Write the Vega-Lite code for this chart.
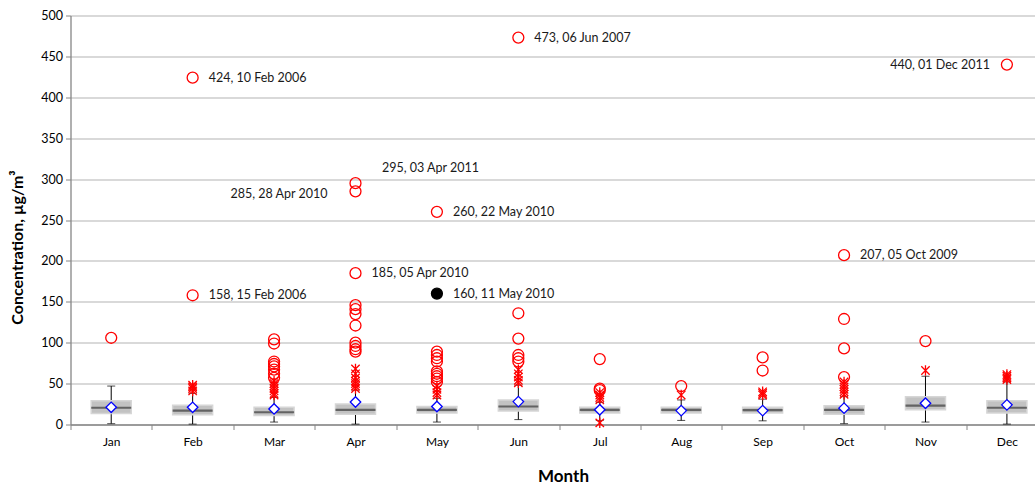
{
  "$schema": "https://vega.github.io/schema/vega-lite/v6.json",
  "autosize": {"type": "none"},
  "padding": {"left": 70.5, "top": 15.5, "right": 0, "bottom": 60},
  "width": 964.5,
  "height": 409,
  "background": "white",
  "config": {
    "view": {"stroke": null},
    "font": "Lato",
    "axis": {"labelFont": "Lato", "titleFont": "Lato", "labelColor": "#000", "titleColor": "#000"}
  },
  "datasets": {
    "boxes": [
      {"month": "Jan", "m": 1, "lo": 1, "q1": 13.5, "med": 20.5, "q3": 29, "hi": 47, "mean": 21},
      {"month": "Feb", "m": 2, "lo": 0.5, "q1": 12, "med": 17, "q3": 23.5, "hi": 38, "mean": 21},
      {"month": "Mar", "m": 3, "lo": 3, "q1": 11, "med": 15, "q3": 21, "hi": 33, "mean": 19},
      {"month": "Apr", "m": 4, "lo": 0.5, "q1": 12.5, "med": 18, "q3": 25, "hi": 42, "mean": 27.5},
      {"month": "May", "m": 5, "lo": 3, "q1": 14, "med": 18, "q3": 22, "hi": 32, "mean": 22},
      {"month": "Jun", "m": 6, "lo": 6, "q1": 16.5, "med": 22, "q3": 30, "hi": 48, "mean": 28},
      {"month": "Jul", "m": 7, "lo": 5, "q1": 14, "med": 18, "q3": 21, "hi": 27, "mean": 18},
      {"month": "Aug", "m": 8, "lo": 5, "q1": 14, "med": 18, "q3": 21, "hi": 30, "mean": 17},
      {"month": "Sep", "m": 9, "lo": 4.5, "q1": 14, "med": 17.5, "q3": 21, "hi": 31, "mean": 17},
      {"month": "Oct", "m": 10, "lo": 1, "q1": 12.5, "med": 18, "q3": 23, "hi": 34, "mean": 20},
      {"month": "Nov", "m": 11, "lo": 3, "q1": 18, "med": 23, "q3": 34, "hi": 59, "mean": 26},
      {"month": "Dec", "m": 12, "lo": 0.5, "q1": 14, "med": 20.5, "q3": 29, "hi": 52, "mean": 24}
    ],
    "outliers": [
      {"m": 1, "value": 106, "type": "extreme"},
      {"m": 2, "value": 424, "type": "extreme", "label": "424, 10 Feb 2006"},
      {"m": 2, "value": 158, "type": "extreme", "label": "158, 15 Feb 2006"},
      {"m": 2, "value": 48, "type": "mild"},
      {"m": 2, "value": 46, "type": "mild"},
      {"m": 2, "value": 44, "type": "mild"},
      {"m": 2, "value": 41, "type": "mild"},
      {"m": 3, "value": 104, "type": "extreme"},
      {"m": 3, "value": 99, "type": "extreme"},
      {"m": 3, "value": 77, "type": "extreme"},
      {"m": 3, "value": 74, "type": "extreme"},
      {"m": 3, "value": 71, "type": "extreme"},
      {"m": 3, "value": 67, "type": "extreme"},
      {"m": 3, "value": 62, "type": "extreme"},
      {"m": 3, "value": 57, "type": "extreme"},
      {"m": 3, "value": 53, "type": "mild"},
      {"m": 3, "value": 50, "type": "mild"},
      {"m": 3, "value": 47, "type": "mild"},
      {"m": 3, "value": 44, "type": "mild"},
      {"m": 3, "value": 41, "type": "mild"},
      {"m": 3, "value": 38, "type": "mild"},
      {"m": 3, "value": 36, "type": "mild"},
      {"m": 4, "value": 295, "type": "extreme", "label": "295, 03 Apr 2011"},
      {"m": 4, "value": 285, "type": "extreme", "label": "285, 28 Apr 2010"},
      {"m": 4, "value": 185, "type": "extreme", "label": "185, 05 Apr 2010"},
      {"m": 4, "value": 146, "type": "extreme"},
      {"m": 4, "value": 141, "type": "extreme"},
      {"m": 4, "value": 135, "type": "extreme"},
      {"m": 4, "value": 121, "type": "extreme"},
      {"m": 4, "value": 100, "type": "extreme"},
      {"m": 4, "value": 96, "type": "extreme"},
      {"m": 4, "value": 92, "type": "extreme"},
      {"m": 4, "value": 89, "type": "extreme"},
      {"m": 4, "value": 68, "type": "mild"},
      {"m": 4, "value": 62, "type": "mild"},
      {"m": 4, "value": 57, "type": "mild"},
      {"m": 4, "value": 53, "type": "mild"},
      {"m": 4, "value": 50, "type": "mild"},
      {"m": 4, "value": 47, "type": "mild"},
      {"m": 4, "value": 44, "type": "mild"},
      {"m": 5, "value": 260, "type": "extreme", "label": "260, 22 May 2010"},
      {"m": 5, "value": 160, "type": "event", "label": "160, 11 May 2010"},
      {"m": 5, "value": 89, "type": "extreme"},
      {"m": 5, "value": 85, "type": "extreme"},
      {"m": 5, "value": 81, "type": "extreme"},
      {"m": 5, "value": 77, "type": "extreme"},
      {"m": 5, "value": 65, "type": "extreme"},
      {"m": 5, "value": 62, "type": "extreme"},
      {"m": 5, "value": 59, "type": "extreme"},
      {"m": 5, "value": 56, "type": "extreme"},
      {"m": 5, "value": 52, "type": "extreme"},
      {"m": 5, "value": 47, "type": "mild"},
      {"m": 5, "value": 43, "type": "mild"},
      {"m": 5, "value": 39, "type": "mild"},
      {"m": 5, "value": 36, "type": "mild"},
      {"m": 6, "value": 473, "type": "extreme", "label": "473, 06 Jun 2007"},
      {"m": 6, "value": 136, "type": "extreme"},
      {"m": 6, "value": 105, "type": "extreme"},
      {"m": 6, "value": 85, "type": "extreme"},
      {"m": 6, "value": 81, "type": "extreme"},
      {"m": 6, "value": 77, "type": "extreme"},
      {"m": 6, "value": 67, "type": "mild"},
      {"m": 6, "value": 62, "type": "mild"},
      {"m": 6, "value": 58, "type": "mild"},
      {"m": 6, "value": 54, "type": "mild"},
      {"m": 6, "value": 51, "type": "mild"},
      {"m": 7, "value": 80, "type": "extreme"},
      {"m": 7, "value": 44, "type": "extreme"},
      {"m": 7, "value": 42, "type": "extreme"},
      {"m": 7, "value": 39, "type": "mild"},
      {"m": 7, "value": 36, "type": "mild"},
      {"m": 7, "value": 33, "type": "mild"},
      {"m": 7, "value": 30, "type": "mild"},
      {"m": 7, "value": 2, "type": "mild"},
      {"m": 8, "value": 47, "type": "extreme"},
      {"m": 8, "value": 36, "type": "mild"},
      {"m": 9, "value": 82, "type": "extreme"},
      {"m": 9, "value": 66, "type": "extreme"},
      {"m": 9, "value": 40, "type": "mild"},
      {"m": 9, "value": 38, "type": "mild"},
      {"m": 9, "value": 36, "type": "mild"},
      {"m": 10, "value": 207, "type": "extreme", "label": "207, 05 Oct 2009"},
      {"m": 10, "value": 129, "type": "extreme"},
      {"m": 10, "value": 93, "type": "extreme"},
      {"m": 10, "value": 58, "type": "extreme"},
      {"m": 10, "value": 52, "type": "mild"},
      {"m": 10, "value": 49, "type": "mild"},
      {"m": 10, "value": 46, "type": "mild"},
      {"m": 10, "value": 43, "type": "mild"},
      {"m": 10, "value": 40, "type": "mild"},
      {"m": 10, "value": 37, "type": "mild"},
      {"m": 11, "value": 102, "type": "extreme"},
      {"m": 11, "value": 66, "type": "mild"},
      {"m": 12, "value": 440, "type": "extreme", "label": "440, 01 Dec 2011"},
      {"m": 12, "value": 61, "type": "mild"},
      {"m": 12, "value": 59, "type": "mild"},
      {"m": 12, "value": 57, "type": "mild"},
      {"m": 12, "value": 55, "type": "mild"}
    ]
  },
  "layer": [
    {
      "data": {"name": "boxes"},
      "mark": {"type": "rule", "color": "#000", "strokeWidth": 1},
      "encoding": {
        "x": {
          "field": "m", "type": "quantitative",
          "scale": {"domain": [0.5, 12.345], "nice": false, "zero": false, "padding": 0},
          "axis": {
            "values": [0.5, 1, 1.5, 2, 2.5, 3, 3.5, 4, 4.5, 5, 5.5, 6, 6.5, 7, 7.5, 8, 8.5, 9, 9.5, 10, 10.5, 11, 11.5, 12],
            "labelExpr": "datum.value % 1 === 0 ? ['Jan','Feb','Mar','Apr','May','Jun','Jul','Aug','Sep','Oct','Nov','Dec'][datum.value - 1] : ''",
            "labelOverlap": false,
            "labelFlush": false,
            "labelFontSize": 12,
            "labelPadding": 7,
            "tickSize": 5,
            "tickColor": "#868686",
            "tickOpacity": {"condition": {"test": "datum.value % 1 === 0", "value": 0}, "value": 1},
            "domainColor": "#868686",
            "domainWidth": 1.3,
            "grid": false,
            "title": "Month",
            "titleFontSize": 17,
            "titleFontWeight": "bold",
            "titleX": 492.5,
            "titleY": 51.5,
            "titleBaseline": "middle"
          }
        },
        "y": {
          "field": "lo", "type": "quantitative",
          "scale": {"domain": [0, 500], "nice": false},
          "axis": {
            "values": [0, 50, 100, 150, 200, 250, 300, 350, 400, 450, 500],
            "labelFontSize": 12.5,
            "labelPadding": 3,
            "tickSize": 5,
            "tickColor": "#868686",
            "domainColor": "#868686",
            "domainWidth": 1.3,
            "grid": true,
            "gridColor": "#cdcdcd",
            "gridWidth": 1.4,
            "title": "Concentration, µg/m³",
            "titleFontSize": 16,
            "titleFontWeight": "bold",
            "titleX": -53,
            "titleY": 231.5,
            "titleBaseline": "middle"
          }
        },
        "y2": {"field": "hi"}
      }
    },
    {
      "data": {"name": "boxes"},
      "mark": {"type": "tick", "orient": "horizontal", "size": 8, "thickness": 1, "color": "#000"},
      "encoding": {
        "x": {"field": "m", "type": "quantitative"},
        "y": {"field": "lo", "type": "quantitative"}
      }
    },
    {
      "data": {"name": "boxes"},
      "mark": {"type": "tick", "orient": "horizontal", "size": 8, "thickness": 1, "color": "#000"},
      "encoding": {
        "x": {"field": "m", "type": "quantitative"},
        "y": {"field": "hi", "type": "quantitative"}
      }
    },
    {
      "data": {"name": "boxes"},
      "mark": {"type": "bar", "width": 40, "fill": "#c2c2c2", "stroke": "#d6d6d6", "strokeWidth": 1.5},
      "encoding": {
        "x": {"field": "m", "type": "quantitative"},
        "y": {"field": "q1", "type": "quantitative"},
        "y2": {"field": "q3"}
      }
    },
    {
      "data": {"name": "boxes"},
      "mark": {"type": "tick", "orient": "horizontal", "size": 40, "thickness": 2.2, "color": "#3a3a3a"},
      "encoding": {
        "x": {"field": "m", "type": "quantitative"},
        "y": {"field": "med", "type": "quantitative"}
      }
    },
    {
      "data": {"name": "outliers"},
      "transform": [{"filter": "datum.type === 'mild'"}],
      "mark": {"type": "point", "shape": "M-0.8,-0.8L0.8,0.8M-0.8,0.8L0.8,-0.8M0,-1L0,1", "size": 110, "filled": false, "stroke": "#ff0000", "strokeWidth": 1.3, "opacity": 1},
      "encoding": {
        "x": {"field": "m", "type": "quantitative"},
        "y": {"field": "value", "type": "quantitative"}
      }
    },
    {
      "data": {"name": "outliers"},
      "transform": [{"filter": "datum.type === 'extreme'"}],
      "mark": {"type": "point", "shape": "circle", "size": 120, "filled": false, "stroke": "#ff0000", "strokeWidth": 1.3, "opacity": 1},
      "encoding": {
        "x": {"field": "m", "type": "quantitative"},
        "y": {"field": "value", "type": "quantitative"}
      }
    },
    {
      "data": {"name": "outliers"},
      "transform": [{"filter": "datum.type === 'event'"}],
      "mark": {"type": "point", "shape": "circle", "size": 120, "filled": true, "fill": "#000", "stroke": "#000", "strokeWidth": 1.3, "opacity": 1},
      "encoding": {
        "x": {"field": "m", "type": "quantitative"},
        "y": {"field": "value", "type": "quantitative"}
      }
    },
    {
      "data": {"name": "boxes"},
      "mark": {"type": "point", "shape": "diamond", "size": 110, "filled": true, "fill": "#ffffff", "stroke": "#0000ff", "strokeWidth": 1.3, "opacity": 1},
      "encoding": {
        "x": {"field": "m", "type": "quantitative"},
        "y": {"field": "mean", "type": "quantitative"}
      }
    },
    {
      "data": {"name": "outliers"},
      "transform": [{"filter": {"field": "label", "oneOf": ["424, 10 Feb 2006", "158, 15 Feb 2006", "473, 06 Jun 2007", "260, 22 May 2010", "185, 05 Apr 2010", "160, 11 May 2010", "207, 05 Oct 2009"]}}],
      "mark": {"type": "text", "align": "left", "baseline": "middle", "dx": 16, "font": "Lato", "fontSize": 12.5, "color": "#1a1a1a"},
      "encoding": {
        "x": {"field": "m", "type": "quantitative"},
        "y": {"field": "value", "type": "quantitative"},
        "text": {"field": "label"}
      }
    },
    {
      "data": {"name": "outliers"},
      "transform": [{"filter": {"field": "label", "oneOf": ["285, 28 Apr 2010"]}}],
      "mark": {"type": "text", "align": "right", "baseline": "middle", "dx": -28, "dy": 3, "font": "Lato", "fontSize": 12.5, "color": "#1a1a1a"},
      "encoding": {
        "x": {"field": "m", "type": "quantitative"},
        "y": {"field": "value", "type": "quantitative"},
        "text": {"field": "label"}
      }
    },
    {
      "data": {"name": "outliers"},
      "transform": [{"filter": {"field": "label", "oneOf": ["440, 01 Dec 2011"]}}],
      "mark": {"type": "text", "align": "right", "baseline": "middle", "dx": -17, "font": "Lato", "fontSize": 12.5, "color": "#1a1a1a"},
      "encoding": {
        "x": {"field": "m", "type": "quantitative"},
        "y": {"field": "value", "type": "quantitative"},
        "text": {"field": "label"}
      }
    },
    {
      "data": {"name": "outliers"},
      "transform": [{"filter": {"field": "label", "oneOf": ["295, 03 Apr 2011"]}}],
      "mark": {"type": "text", "align": "left", "baseline": "middle", "dx": 26.5, "dy": -15, "font": "Lato", "fontSize": 12.5, "color": "#1a1a1a"},
      "encoding": {
        "x": {"field": "m", "type": "quantitative"},
        "y": {"field": "value", "type": "quantitative"},
        "text": {"field": "label"}
      }
    },
    {
      "mark": {"type": "rule", "color": "#000", "strokeWidth": 1.3},
      "encoding": {
        "y": {"datum": 500}
      }
    }
  ]
}
